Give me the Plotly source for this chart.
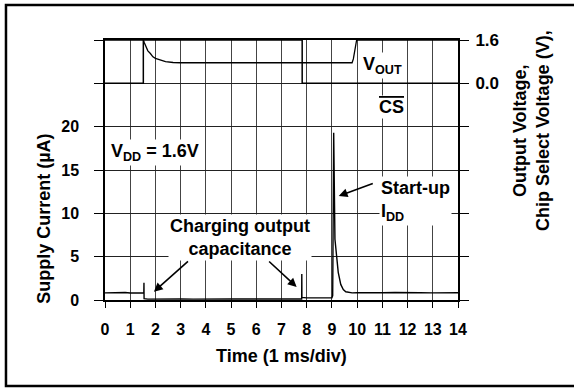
import plotly.graph_objects as go

# supply current trace (uA) vs time (ms)
time_ms = [0, 0.2, 0.4, 0.6, 0.8, 1.0, 1.2, 1.4, 1.54, 1.545, 1.55, 1.7,
           2.0, 2.5, 3.0, 3.5, 4.0, 4.5, 5.0, 5.5, 6.0, 6.5, 7.0, 7.5,
           7.8, 7.805, 7.81, 8.0, 8.5, 9.0,
           9.03, 9.07, 9.12, 9.17, 9.25, 9.35, 9.45, 9.55, 9.7, 9.8,
           10.0, 10.5, 11, 11.5, 12, 12.5, 13, 13.5, 14]
current_ua = [0.82, 0.85, 0.8, 0.84, 0.86, 0.81, 0.85, 0.83, 0.84, 2.0, 0.15, 0.1,
              0.12, 0.08, 0.12, 0.1, 0.13, 0.09, 0.11, 0.12, 0.1, 0.13, 0.11, 0.12,
              0.12, 3.0, 0.3, 0.25, 0.28, 0.26,
              0.5, 19.3, 7.0, 5.2, 3.2, 1.8, 1.2, 0.95, 0.85, 0.82,
              0.84, 0.8, 0.83, 0.86, 0.81, 0.84, 0.82, 0.85, 0.83]

# output voltage (V)
vout_time = [0, 1.52, 1.56, 1.62, 1.7, 1.8, 1.9, 2.0, 2.2, 2.4, 2.7, 3.0,
             9.8, 9.85, 9.98, 14]
vout_v = [1.6, 1.6, 1.5, 1.35, 1.2, 1.1, 0.98, 0.92, 0.85, 0.8, 0.77, 0.76,
          0.76, 0.9, 1.6, 1.6]

# chip select (V)
cs_time = [0, 1.52, 1.52, 7.82, 7.82, 14]
cs_v = [0, 0, 1.6, 1.6, 0, 0]

x_ticks = list(range(0, 15))
ua_ticks = [0, 5, 10, 15, 20, 25, 30]
ua_labels = ["0", "5", "10", "15", "20", "", ""]
v_ticks = [0.0, 1.6]
v_labels = ["0.0", "1.6"]

FONT = "Arial, Liberation Sans, sans-serif"
BLACK = "#000000"

fig = go.Figure()
fig.add_trace(go.Scatter(x=time_ms, y=current_ua, mode="lines",
                         line=dict(color=BLACK, width=1.4), yaxis="y"))
fig.add_trace(go.Scatter(x=vout_time, y=vout_v, mode="lines",
                         line=dict(color=BLACK, width=1.3), yaxis="y2"))
fig.add_trace(go.Scatter(x=cs_time, y=cs_v, mode="lines",
                         line=dict(color=BLACK, width=1.5), yaxis="y2"))

tickfont = dict(family=FONT, size=16, color=BLACK, weight="bold")

fig.update_layout(
    width=574, height=388,
    margin=dict(l=105, r=116, t=40, b=88),
    plot_bgcolor="white", paper_bgcolor="white",
    showlegend=False,
    font=dict(family=FONT, color=BLACK),
    xaxis=dict(range=[0, 14], tickvals=x_ticks, showgrid=True,
               gridcolor="#444444", gridwidth=1,
               showline=True, linecolor=BLACK, linewidth=2, mirror=True,
               ticks="outside", ticklen=6, tickcolor=BLACK, tickwidth=1,
               tickfont=tickfont, ticklabelstandoff=8, zeroline=False),
    yaxis=dict(range=[0, 30], tickvals=ua_ticks, ticktext=ua_labels,
               showgrid=True, gridcolor="#222222", gridwidth=1,
               showline=True, linecolor=BLACK, linewidth=1.5, mirror="ticks",
               ticks="outside", ticklen=9, tickcolor=BLACK, tickwidth=1,
               tickfont=tickfont, ticklabelstandoff=12, zeroline=False),
    yaxis2=dict(range=[-8.0, 1.6], overlaying="y", side="right",
                tickvals=v_ticks, ticktext=v_labels, showgrid=False,
                ticks="outside", ticklen=8, tickcolor=BLACK,
                tickfont=dict(family=FONT, size=17, color=BLACK, weight="bold"),
                ticklabelstandoff=5, zeroline=False),
)

ann_font = dict(family=FONT, size=18, color=BLACK, weight="bold")
anns = [
    dict(x=1.98, y=17, text="V<sub>DD</sub> = 1.6V"),
    dict(x=5.34, y=7.2, text="Charging output<br>capacitance"),
    dict(x=10.85, y=11.4, text="Start-up<br>I<sub>DD</sub>", xanchor="left", align="left"),
    dict(x=11.0, y=27.1, text="V<sub>OUT</sub>"),
    dict(x=11.37, y=22.3, text="<span style='text-decoration:overline'>CS</span>"),
]
for a in anns:
    fig.add_annotation(xref="x", yref="y", showarrow=False, bgcolor="white",
                       borderpad=1, font=ann_font, **a)

arrows = [((1.94, 0.96), (3.35, 4.6)),
          ((7.6, 1.5), (6.45, 4.6)),
          ((9.27, 12.0), (10.68, 13.5))]
for (tx, ty), (sx, sy) in arrows:
    fig.add_annotation(x=tx, y=ty, ax=sx, ay=sy, xref="x", yref="y",
                       axref="x", ayref="y", text="", showarrow=True,
                       arrowhead=2, arrowsize=1.1, arrowwidth=1.6,
                       arrowcolor=BLACK)

# axis titles
fig.add_annotation(xref="paper", yref="paper", x=-0.173, y=0.312,
                   xanchor="center", yanchor="middle",
                   text="Supply Current (µA)", textangle=-90, showarrow=False,
                   font=ann_font)
fig.add_annotation(xref="paper", yref="paper", x=1.207, y=0.65,
                   xanchor="center", yanchor="middle",
                   text="Output Voltage,<br>Chip Select Voltage (V),",
                   textangle=-90, showarrow=False, font=ann_font)
fig.add_annotation(xref="paper", yref="paper", x=0.5, y=-0.215,
                   xanchor="center", yanchor="middle",
                   text="Time (1 ms/div)", showarrow=False, font=ann_font)

# outer frame
fig.add_shape(type="rect", xref="paper", yref="paper",
              x0=-0.2805, x1=1.34, y0=-0.331, y1=1.135,
              line=dict(color=BLACK, width=2.5))

fig.write_html("out.html", config={"displayModeBar": False},
               post_script="document.body.style.margin='0';")
